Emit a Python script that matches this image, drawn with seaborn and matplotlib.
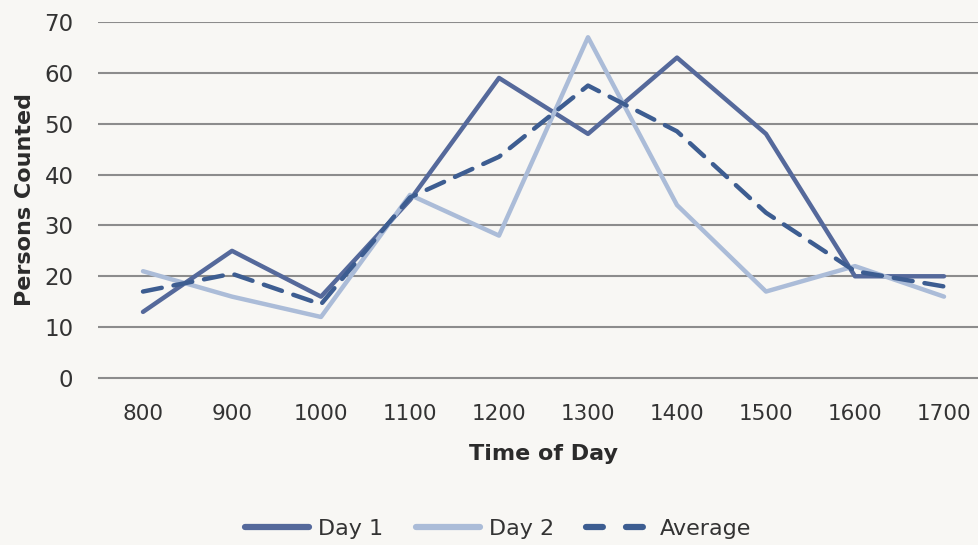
import matplotlib
matplotlib.use("Agg")
import matplotlib.pyplot as plt
import seaborn as sns
import pandas as pd

# Hourly pedestrian counts
times = ["800", "900", "1000", "1100", "1200", "1300", "1400", "1500", "1600", "1700"]
day1 = [13, 25, 16, 35, 59, 48, 63, 48, 20, 20]
day2 = [21, 16, 12, 36, 28, 67, 34, 17, 22, 16]
average = [17, 20.5, 14.5, 35.5, 43.5, 57.5, 48.5, 32.5, 21, 18]

series_names = ["Day 1", "Day 2", "Average"]
colors = {"Day 1": "#55699b", "Day 2": "#abbcd8", "Average": "#3d5d91"}

df = pd.concat([
    pd.DataFrame({"Time": times, "Count": vals, "Series": name})
    for name, vals in zip(series_names, [day1, day2, average])
], ignore_index=True)

sns.set_theme(style="white")
plt.rcParams["font.family"] = ["DejaVu Sans"]

bg = "#f8f7f4"
fig = plt.figure(figsize=(9.79, 5.45), dpi=100, facecolor=bg)
ax = fig.add_axes([98.5 / 979, 1 - 378 / 545, 890 / 979, 356 / 545])
ax.set_facecolor(bg)

# horizontal gridlines
for v in range(10, 71, 10):
    ax.axhline(v, color="#8c8c8c", lw=1.5, zorder=0)

sns.lineplot(
    data=df, x="Time", y="Count", hue="Series", style="Series",
    hue_order=series_names, style_order=series_names,
    palette=colors,
    dashes={"Day 1": "", "Day 2": "", "Average": (4.3, 2.7)},
    linewidth=3.2, sort=False, legend=False, ax=ax,
)
for line in ax.lines:
    line.set_dash_capstyle("round")

ax.set_xlim(-0.5, len(times) - 0.5)
ax.set_ylim(0, 70)
ax.set_yticks(range(0, 71, 10))

for s in ["top", "right", "left"]:
    ax.spines[s].set_visible(False)
ax.spines["bottom"].set_color("#8c8c8c")
ax.spines["bottom"].set_linewidth(1.5)

# category labels centred, tick marks between categories
ax.set_xticks(range(len(times)))
ax.set_xticklabels(times)
ax.tick_params(axis="x", which="major", length=0, pad=19, labelsize=15.5, labelcolor="#333333")
ax.set_xticks([i - 0.5 for i in range(len(times) + 1)], minor=True)
ax.tick_params(axis="x", which="minor", length=7, width=1.5, color="#8c8c8c", direction="out")
ax.tick_params(axis="y", length=0, pad=18, labelsize=16.5, labelcolor="#333333")

ax.set_xlabel("Time of Day", fontsize=16, fontweight="bold", color="#2b2b2b", labelpad=14)
ax.set_ylabel("Persons Counted", fontsize=16, fontweight="bold", color="#2b2b2b", labelpad=7)

handles = [
    plt.Line2D([], [], color=colors["Day 1"], lw=4.5),
    plt.Line2D([], [], color=colors["Day 2"], lw=4.5),
    plt.Line2D([], [], color=colors["Average"], lw=4.5, dashes=(2.7, 3.7),
               dash_capstyle="round"),
]
fig.legend(handles, series_names, loc="center", bbox_to_anchor=(498 / 979, 1 - 529 / 545),
           ncol=3, frameon=False, fontsize=16, handlelength=2.9, columnspacing=1.45,
           handletextpad=0.4, labelcolor="#333333")

fig.savefig("out.png", dpi=100, facecolor=bg)
